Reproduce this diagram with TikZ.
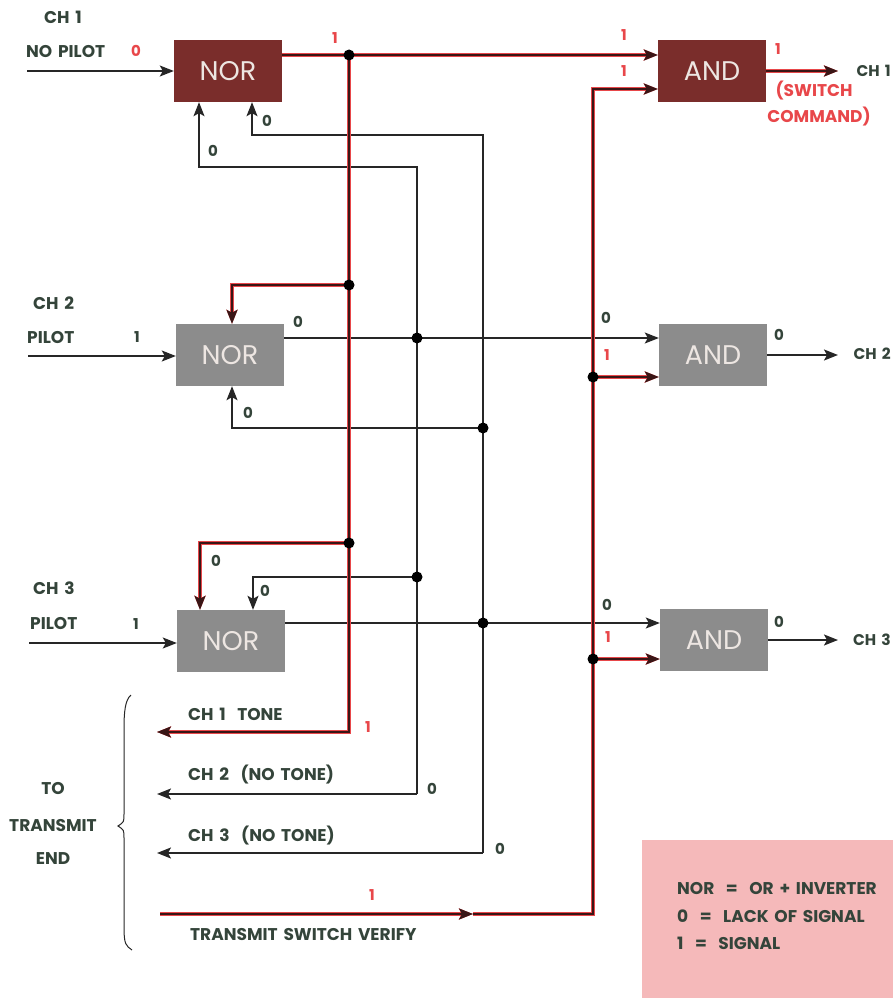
\documentclass[tikz,border=0pt]{standalone}
\usepackage{fontspec}
\setmainfont{Poppins}[WordSpace=1.6]
\usetikzlibrary{arrows.meta,calc}
\definecolor{ink}{HTML}{34443A}
\definecolor{wire}{HTML}{262626}
\definecolor{sig}{HTML}{E8474A}
\definecolor{sigcore}{HTML}{3A1616}
\definecolor{hot}{HTML}{7A2D2B}
\definecolor{cold}{HTML}{8C8C8C}
\definecolor{gatetext}{HTML}{EDE6E2}
\definecolor{pinkbg}{HTML}{F5B9BA}
\begin{document}
\begin{tikzpicture}[x=1pt,y=-1pt,
  gate/.style={draw=none,minimum width=108pt,minimum height=62pt,inner sep=0pt,
    font=\fontsize{27}{27}\selectfont,text=gatetext},
  hotgate/.style={gate,fill=hot},
  coldgate/.style={gate,fill=cold},
  lbl/.style={font=\bfseries\fontsize{17}{17}\selectfont,text=ink,inner sep=0pt},
  rightlbl/.style={font=\bfseries\fontsize{15.5}{15.5}\selectfont,text=ink,inner sep=0pt,anchor=east},
  num/.style={font=\bfseries\fontsize{15}{15}\selectfont,text=ink,inner sep=0pt},
  rnum/.style={num,text=sig},
  rlbl/.style={lbl,text=sig},
  w/.style={draw=wire,line width=1.6pt},
  rw/.style={draw=sigcore,line width=2pt,preaction={draw=sig,line width=4.2pt}},
  arr/.style={-{Stealth[length=14pt,width=11pt,inset=3pt]}},
  dot/.style={fill=black},
  legend/.style={font=\bfseries\fontsize{17}{17}\selectfont,text=ink,inner sep=0pt,anchor=west}
]
\useasboundingbox (0,0) rectangle (893,998);
\fill[pinkbg] (642,840) rectangle (893,998);

% gates
\node[hotgate]  (nor1) at (228,71)  {NOR};
\node[coldgate] (nor2) at (230,355) {NOR};
\node[coldgate] (nor3) at (231,641) {NOR};
\node[hotgate]  (and1) at (712,71)  {AND};
\node[coldgate] (and2) at (713,355) {AND};
\node[coldgate] (and3) at (714,640) {AND};

% junction and corner coordinates
\coordinate (jA1) at (349,55);
\coordinate (jA2) at (349,285);
\coordinate (jA3) at (349,543);
\coordinate (bA)  at (349,732);
\coordinate (tA)  at (157,732);
\coordinate (cB)  at (417,167);
\coordinate (jB1) at (417,338);
\coordinate (jB2) at (417,577);
\coordinate (bB)  at (417,794);
\coordinate (tB)  at (157,794);
\coordinate (cC)  at (483,135);
\coordinate (jC1) at (483,428);
\coordinate (jC2) at (483,623);
\coordinate (bC)  at (483,853);
\coordinate (tC)  at (157,853);
\coordinate (cD)  at (593,89);
\coordinate (jD1) at (593,377);
\coordinate (jD2) at (593,659);
\coordinate (bD)  at (593,914);
\coordinate (sD)  at (160,914);
\coordinate (mD)  at (473,914);
\coordinate (in1) at (27,71);
\coordinate (in2) at (28,356);
\coordinate (in3) at (29,643);
\coordinate (o1)  at (838,71);
\coordinate (o2)  at (838,355);
\coordinate (o3)  at (838,640);

% black wires
\draw[w,arr] (in1) -- (nor1.west |- in1);
\draw[w,arr] (in2) -- (nor2.west |- in2);
\draw[w,arr] (in3) -- (nor3.west |- in3);
\draw[w,arr] (bB) -- (cB) -| ([xshift=-29pt]nor1.south);
\draw[w,arr] (bB) -- (tB);
\draw[w,arr] (bC) -- (cC) -| ([xshift=24pt]nor1.south);
\draw[w,arr] (bC) -- (tC);
\draw[w,arr] (nor2.east |- jB1) -- (and2.west |- jB1);
\draw[w,arr] (jC1) -| ([xshift=2pt]nor2.south);
\draw[w,arr] (nor3.east |- jC2) -- (and3.west |- jC2);
\draw[w,arr] (jB2) -| ([xshift=22pt]nor3.north);
\draw[w,arr] (and2.east) -- (o2);
\draw[w,arr] (and3.east) -- (o3);

% red wires
\draw[rw,arr] (nor1.east |- jA1) -- (and1.west |- jA1);
\draw[rw,arr] (jA1) -- (bA) -- (tA);
\draw[rw,arr] (jA2) -| ([xshift=2pt]nor2.north);
\draw[rw,arr] (jA3) -| ([xshift=-31pt]nor3.north);
\draw[rw,arr] (sD) -- (mD);
\draw[rw,arr] (mD) -- (bD) -- (cD) -- (and1.west |- cD);
\draw[rw,arr] (jD1) -- (and2.west |- jD1);
\draw[rw,arr] (jD2) -- (and3.west |- jD2);
\draw[rw,arr] (and1.east) -- (o1);

% dots
\foreach \p in {jA1,jA2,jA3,jB1,jB2,jC1,jC2,jD1,jD2}
  \fill[dot] (\p) circle (5.5pt);

% brace
\draw[wire,line width=1pt] (131,695) .. controls (125,700) and (124,712) .. (124,730)
  -- (124,814) .. controls (124,822) .. (118,826) .. controls (124,830) .. (124,838)
  -- (124,928) .. controls (124,944) and (126,946) .. (132,950);

% left labels
\node[lbl] (l1a) at (63,17) {CH 1};
\node[lbl,anchor=west] (l1b) at (26,52) {NO PILOT};
\node[lbl,anchor=west] (l2a) at (33,303) {CH 2};
\node[lbl,anchor=west] (l2b) at (27,338) {PILOT};
\node[lbl,anchor=west] (l3a) at (33,588) {CH 3};
\node[lbl,anchor=west] (l3b) at (30,623) {PILOT};

% numbers
\node[rnum] (n01) at (136,51) {0};
\node[rnum] (n02) at (335,38) {1};
\node[num]  (n03) at (213,151) {0};
\node[num]  (n04) at (267,121) {0};
\node[rnum] (n05) at (624,35) {1};
\node[rnum] (n06) at (624,71) {1};
\node[rnum] (n07) at (778,49) {1};
\node[num]  (n08) at (137,337) {1};
\node[num]  (n09) at (298,322) {0};
\node[num]  (n10) at (248,413) {0};
\node[num]  (n11) at (606,318) {0};
\node[rnum] (n12) at (607,355) {1};
\node[num]  (n13) at (779,335) {0};
\node[num]  (n14) at (216,561) {0};
\node[num]  (n15) at (265,591) {0};
\node[num]  (n16) at (136,624) {1};
\node[num]  (n17) at (607,605) {0};
\node[rnum] (n18) at (608,637) {1};
\node[num]  (n19) at (779,622) {0};
\node[rnum] (n20) at (368,727) {1};
\node[num]  (n21) at (432,789) {0};
\node[num]  (n22) at (500,849) {0};
\node[rnum] (n23) at (372,895) {1};

% right labels
\node[rightlbl] (r1) at (891,71) {CH 1};
\node[rlbl] (r1a) at (814,91) {(SWITCH};
\node[rlbl] (r1b) at (819,117) {COMMAND)};
\node[rightlbl] (r2) at (891,354) {CH 2};
\node[rightlbl] (r3) at (891,640) {CH 3};

% bottom labels
\node[lbl,anchor=west] (b1) at (188,714) {CH 1\ \ TONE};
\node[lbl,anchor=west] (b2) at (188,775) {CH 2\ \ (NO TONE)};
\node[lbl,anchor=west] (b3) at (188,836) {CH 3\ \ (NO TONE)};
\node[lbl,anchor=west] (b4) at (190,934) {TRANSMIT SWITCH VERIFY};
\node[lbl] (t1) at (53,788) {TO};
\node[lbl] (t2) at (53,825) {TRANSMIT};
\node[lbl] (t3) at (53,859) {END};

% legend
\node[legend] (g1) at (677,888) {NOR\ \ =\ \ OR + INVERTER};
\node[legend] (g2) at (677,916) {0\ \ =\ \ LACK OF SIGNAL};
\node[legend] (g3) at (677,943) {1\ \ =\ \ SIGNAL};
\end{tikzpicture}
\end{document}
